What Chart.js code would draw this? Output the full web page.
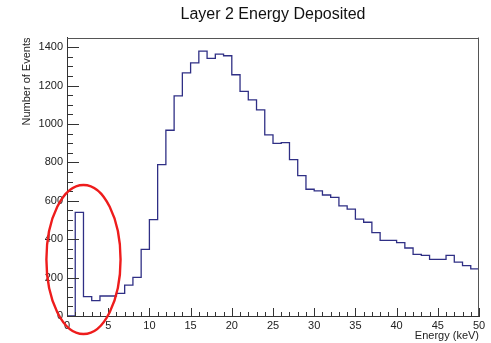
<!DOCTYPE html>
<html>
<head>
<meta charset="utf-8">
<script src="https://cdn.jsdelivr.net/npm/chart.js@4.4.1/dist/chart.umd.min.js"></script>
<style>
  html, body { margin: 0; padding: 0; background: #ffffff; }
  #wrap { width: 491px; height: 343px; }
</style>
</head>
<body>
<div id="wrap"><canvas id="c" width="491" height="343"></canvas></div>
<script>
// Histogram bins: 1 keV wide, lower edges in keV
const binLowEdges = [0, 1, 2, 3, 4, 5, 6, 7, 8, 9,
                     10, 11, 12, 13, 14, 15, 16, 17, 18, 19,
                     20, 21, 22, 23, 24, 25, 26, 27, 28, 29,
                     30, 31, 32, 33, 34, 35, 36, 37, 38, 39,
                     40, 41, 42, 43, 44, 45, 46, 47, 48, 49];
const upperEdge = 50;

// Events per bin
const eventCounts = [0, 540, 101, 80, 104, 104, 118, 161, 201, 347,
                     502, 788, 967, 1146, 1266, 1318, 1379, 1341, 1363, 1355,
                     1256, 1169, 1125, 1073, 943, 899, 903, 814, 731, 660,
                     651, 630, 618, 573, 556, 504, 488, 434, 394, 394,
                     382, 354, 321, 316, 295, 295, 316, 281, 262, 245];

// Axis tick labels
const xTickValues = [0, 5, 10, 15, 20, 25, 30, 35, 40, 45, 50];
const yTickValues = [0, 200, 400, 600, 800, 1000, 1200, 1400];

const FONT = '"Liberation Sans", Arial, Helvetica, sans-serif';

// Histogram outline points: one per lower edge, plus the closing upper edge
const histPoints = binLowEdges.map((x, i) => ({ x: x, y: eventCounts[i] }));
histPoints.push({ x: upperEdge, y: eventCounts[eventCounts.length - 1] });

// Inward ROOT-style tick marks, frame, and the highlighted low-energy region
const frameAndTicks = {
  id: 'frameAndTicks',
  afterDraw(chart) {
    const { ctx, chartArea: a, scales: { x, y } } = chart;
    ctx.save();
    ctx.strokeStyle = '#333333';
    ctx.lineWidth = 1;
    ctx.beginPath();
    // x ticks: major every 5 keV, minor every 1 keV
    for (let v = x.min; v <= x.max + 1e-9; v += 1) {
      const px = Math.round(x.getPixelForValue(v)) + 0.5;
      const len = (v % 5 === 0) ? 8 : 4;
      ctx.moveTo(px, a.bottom);
      ctx.lineTo(px, a.bottom - len);
    }
    // y ticks: major every 200, minor every 50
    for (let v = 0; v <= y.max + 1e-9; v += 50) {
      const py = Math.round(y.getPixelForValue(v)) + 0.5;
      const len = (v % 200 === 0) ? 12 : 6;
      ctx.moveTo(a.left, py);
      ctx.lineTo(a.left + len, py);
    }
    ctx.stroke();

    // top and right frame lines
    ctx.strokeStyle = '#555555';
    ctx.beginPath();
    ctx.moveTo(a.left, Math.round(a.top) + 0.5);
    ctx.lineTo(a.right, Math.round(a.top) + 0.5);
    ctx.moveTo(Math.round(a.right) - 0.5, a.top);
    ctx.lineTo(Math.round(a.right) - 0.5, a.bottom);
    ctx.stroke();

    // red ring around the low-energy peak (centre and radii in data units)
    const ringCenter = { x: 2.0, y: 294 };
    const ringRadius = { x: 4.5, y: 388 };
    const cx = x.getPixelForValue(ringCenter.x);
    const cy = y.getPixelForValue(ringCenter.y);
    const rx = x.getPixelForValue(ringCenter.x + ringRadius.x) - cx;
    const ry = cy - y.getPixelForValue(ringCenter.y + ringRadius.y);
    ctx.strokeStyle = '#ee1c1c';
    ctx.lineWidth = 2.4;
    ctx.beginPath();
    ctx.ellipse(cx, cy, rx, ry, 0, 0, Math.PI * 2);
    ctx.stroke();
    ctx.restore();
  }
};

new Chart(document.getElementById('c'), {
  type: 'line',
  data: {
    datasets: [{
      data: histPoints,
      stepped: 'before',
      borderColor: '#2f2f85',
      borderWidth: 1.3,
      pointRadius: 0,
      fill: false,
      tension: 0
    }]
  },
  options: {
    responsive: false,
    animation: false,
    devicePixelRatio: 1,
    layout: { padding: { left: 0, right: 12, top: 0, bottom: 0 } },
    plugins: {
      legend: { display: false },
      tooltip: { enabled: false },
      title: {
        display: true,
        text: 'Layer 2 Energy Deposited',
        fullSize: false,
        color: '#111111',
        font: { family: FONT, size: 16, weight: 'normal', lineHeight: 1.2 },
        padding: { top: 5, bottom: 13.3 }
      }
    },
    scales: {
      x: {
        type: 'linear',
        position: 'bottom',
        min: 0,
        max: 50,
        afterBuildTicks: s => { s.ticks = xTickValues.map(v => ({ value: v })); },
        afterFit: s => { s.height = 27; },
        grid: { display: false, drawTicks: false },
        border: { display: true, color: '#333333', width: 1 },
        ticks: {
          color: '#222222',
          font: { family: FONT, size: 11 },
          padding: 3,
          maxRotation: 0,
          autoSkip: false,
          callback: v => String(v)
        },
        title: {
          display: true,
          text: 'Energy (keV)',
          align: 'end',
          color: '#222222',
          font: { family: FONT, size: 11, lineHeight: 1.2 },
          padding: { top: 0, bottom: 0.5 }
        }
      },
      y: {
        type: 'linear',
        position: 'left',
        min: 0,
        max: 1450,
        afterBuildTicks: s => { s.ticks = yTickValues.map(v => ({ value: v })); },
        afterFit: s => { s.width = 67; },
        grid: { display: false, drawTicks: false },
        border: { display: true, color: '#333333', width: 1 },
        ticks: {
          color: '#222222',
          font: { family: FONT, size: 11 },
          padding: 4,
          callback: v => String(v)
        },
        title: {
          display: true,
          text: 'Number of Events',
          align: 'end',
          color: '#222222',
          font: { family: FONT, size: 11, lineHeight: 1.2 },
          padding: { top: 20.4, bottom: 0 }
        }
      }
    }
  },
  plugins: [frameAndTicks]
});
</script>
</body>
</html>
